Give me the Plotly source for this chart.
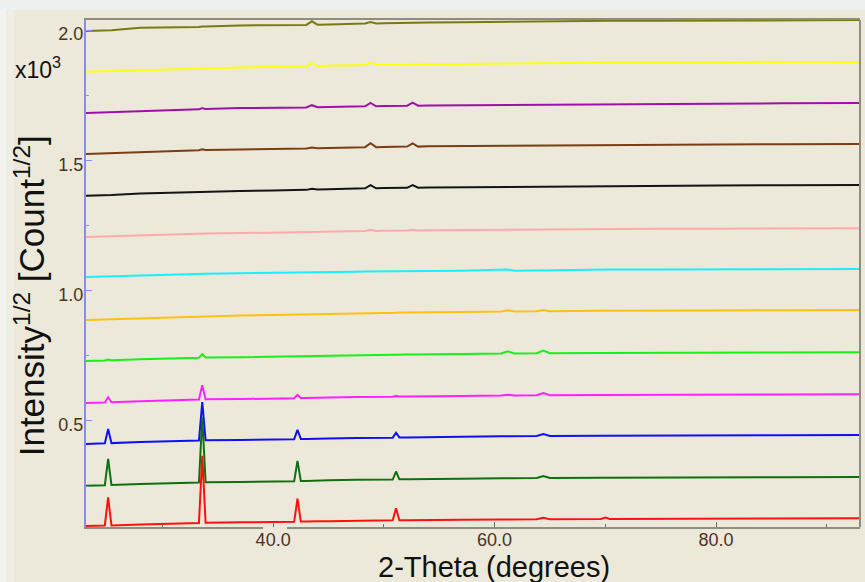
import plotly.graph_objects as go

# 2-theta sampling positions (degrees)
two_theta = [23.1, 24.8, 25.1, 25.4, 28.0, 31.0, 33.3, 33.6, 33.9, 37.0, 40.0,
             41.9, 42.2, 42.5, 43.0, 43.5, 44.0, 45.0, 47.5, 48.3, 48.8, 49.3,
             50.0, 50.8, 51.1, 51.4, 52.1, 52.6, 53.1, 54.0, 57.0, 60.6, 61.2,
             61.8, 63.8, 64.4, 65.0, 69.6, 70.0, 70.4, 75.0, 80.0, 86.0, 93.0]

# sqrt-intensity patterns (x10^3), stacked bottom to top
red = [0.097, 0.099, 0.207, 0.099, 0.103, 0.107, 0.108, 0.366, 0.109, 0.111, 0.112,
       0.113, 0.202, 0.114, 0.114, 0.115, 0.115, 0.115, 0.117, 0.118, 0.118, 0.118,
       0.119, 0.119, 0.165, 0.119, 0.119, 0.119, 0.120, 0.120, 0.121, 0.122, 0.122,
       0.122, 0.123, 0.128, 0.123, 0.124, 0.129, 0.124, 0.125, 0.126, 0.127, 0.127]
dark_green = [0.251, 0.253, 0.354, 0.254, 0.258, 0.262, 0.264, 0.515, 0.265, 0.266, 0.268,
              0.269, 0.347, 0.270, 0.270, 0.271, 0.271, 0.272, 0.274, 0.274, 0.274, 0.274,
              0.275, 0.275, 0.306, 0.276, 0.276, 0.276, 0.276, 0.277, 0.278, 0.280, 0.280,
              0.280, 0.281, 0.289, 0.281, 0.282, 0.282, 0.282, 0.283, 0.283, 0.284, 0.285]
blue = [0.412, 0.414, 0.469, 0.415, 0.419, 0.423, 0.425, 0.572, 0.426, 0.427, 0.429,
        0.430, 0.466, 0.431, 0.431, 0.432, 0.432, 0.433, 0.435, 0.435, 0.435, 0.435,
        0.436, 0.436, 0.455, 0.437, 0.437, 0.437, 0.437, 0.438, 0.439, 0.441, 0.441,
        0.441, 0.442, 0.450, 0.442, 0.443, 0.443, 0.443, 0.444, 0.444, 0.445, 0.446]
magenta = [0.569, 0.571, 0.591, 0.572, 0.576, 0.580, 0.582, 0.637, 0.583, 0.584, 0.586,
           0.587, 0.600, 0.588, 0.588, 0.589, 0.589, 0.590, 0.592, 0.592, 0.592, 0.592,
           0.593, 0.593, 0.596, 0.594, 0.594, 0.594, 0.594, 0.595, 0.596, 0.598, 0.601,
           0.598, 0.599, 0.607, 0.599, 0.600, 0.600, 0.600, 0.601, 0.601, 0.602, 0.603]
lime = [0.730, 0.732, 0.736, 0.733, 0.737, 0.741, 0.743, 0.756, 0.744, 0.745, 0.747,
        0.748, 0.751, 0.749, 0.749, 0.750, 0.750, 0.751, 0.753, 0.753, 0.753, 0.753,
        0.754, 0.754, 0.754, 0.755, 0.755, 0.755, 0.755, 0.756, 0.757, 0.759, 0.767,
        0.759, 0.760, 0.770, 0.760, 0.761, 0.761, 0.761, 0.762, 0.762, 0.763, 0.764]
orange = [0.888, 0.890, 0.891, 0.891, 0.896, 0.900, 0.902, 0.903, 0.903, 0.905, 0.907,
          0.908, 0.909, 0.909, 0.909, 0.910, 0.910, 0.911, 0.913, 0.914, 0.914, 0.914,
          0.915, 0.915, 0.915, 0.916, 0.916, 0.916, 0.916, 0.917, 0.918, 0.920, 0.925,
          0.920, 0.921, 0.926, 0.921, 0.923, 0.923, 0.923, 0.923, 0.924, 0.925, 0.926]
cyan = [1.053, 1.055, 1.055, 1.055, 1.059, 1.063, 1.064, 1.065, 1.065, 1.067, 1.068,
        1.069, 1.070, 1.070, 1.070, 1.071, 1.071, 1.071, 1.073, 1.074, 1.074, 1.074,
        1.075, 1.075, 1.075, 1.075, 1.075, 1.075, 1.075, 1.076, 1.077, 1.078, 1.081,
        1.077, 1.078, 1.079, 1.079, 1.081, 1.081, 1.081, 1.081, 1.082, 1.083, 1.083]
pink = [1.206, 1.208, 1.209, 1.209, 1.213, 1.217, 1.219, 1.220, 1.220, 1.221, 1.223,
        1.224, 1.225, 1.225, 1.225, 1.226, 1.226, 1.227, 1.229, 1.229, 1.234, 1.229,
        1.230, 1.230, 1.230, 1.231, 1.231, 1.234, 1.231, 1.232, 1.233, 1.235, 1.235,
        1.235, 1.236, 1.236, 1.236, 1.238, 1.238, 1.238, 1.238, 1.238, 1.239, 1.240]
black = [1.364, 1.366, 1.367, 1.367, 1.373, 1.377, 1.379, 1.381, 1.381, 1.383, 1.385,
         1.386, 1.387, 1.387, 1.387, 1.391, 1.388, 1.389, 1.392, 1.393, 1.405, 1.393,
         1.394, 1.394, 1.394, 1.395, 1.395, 1.405, 1.395, 1.396, 1.397, 1.399, 1.399,
         1.399, 1.400, 1.400, 1.400, 1.403, 1.403, 1.403, 1.403, 1.404, 1.405, 1.406]
brown = [1.525, 1.527, 1.528, 1.528, 1.533, 1.537, 1.539, 1.543, 1.540, 1.542, 1.544,
         1.545, 1.546, 1.546, 1.546, 1.550, 1.547, 1.548, 1.550, 1.551, 1.566, 1.551,
         1.552, 1.552, 1.552, 1.553, 1.553, 1.565, 1.553, 1.554, 1.555, 1.557, 1.557,
         1.557, 1.558, 1.558, 1.558, 1.560, 1.560, 1.560, 1.560, 1.561, 1.562, 1.563]
purple = [1.682, 1.684, 1.685, 1.685, 1.690, 1.694, 1.696, 1.701, 1.697, 1.701, 1.701,
          1.702, 1.703, 1.703, 1.703, 1.712, 1.704, 1.705, 1.707, 1.708, 1.721, 1.708,
          1.709, 1.709, 1.709, 1.710, 1.710, 1.722, 1.710, 1.711, 1.712, 1.714, 1.714,
          1.714, 1.715, 1.715, 1.715, 1.717, 1.717, 1.717, 1.717, 1.718, 1.719, 1.720]
yellow = [1.840, 1.842, 1.843, 1.843, 1.848, 1.852, 1.854, 1.855, 1.855, 1.857, 1.859,
          1.860, 1.861, 1.861, 1.861, 1.874, 1.862, 1.863, 1.865, 1.866, 1.876, 1.866,
          1.867, 1.867, 1.867, 1.868, 1.868, 1.868, 1.868, 1.869, 1.870, 1.872, 1.872,
          1.872, 1.873, 1.873, 1.873, 1.875, 1.875, 1.875, 1.875, 1.876, 1.877, 1.878]
olive = [1.997, 1.999, 2.000, 2.000, 2.009, 2.010, 2.012, 2.014, 2.014, 2.018, 2.018,
         2.019, 2.020, 2.020, 2.020, 2.034, 2.021, 2.022, 2.025, 2.026, 2.031, 2.026,
         2.027, 2.027, 2.027, 2.028, 2.028, 2.028, 2.028, 2.029, 2.030, 2.032, 2.032,
         2.032, 2.033, 2.033, 2.033, 2.036, 2.036, 2.036, 2.036, 2.037, 2.038, 2.039]

# drawn top pattern first so the lower patterns sit on top
patterns = [
    (olive, "#7A7A14"),
    (yellow, "#FFFF10"),
    (purple, "#A010A8"),
    (brown, "#7A3E14"),
    (black, "#141414"),
    (pink, "#FFAAAA"),
    (cyan, "#18F0FF"),
    (orange, "#FFC010"),
    (lime, "#18F018"),
    (magenta, "#FF20FF"),
    (blue, "#1010F0"),
    (dark_green, "#107010"),
    (red, "#FF1010"),
]

x_tick_vals = [40, 60, 80]
x_tick_text = ["40.0", "60.0", "80.0"]
y_tick_vals = [0.5, 1.0, 1.5, 2.0]
y_tick_text = ["0.5", "1.0", "1.5", "2.0"]

BG = "#ECE9DB"
FONT = "Liberation Sans, Arial, sans-serif"
TICK_FONT = dict(family=FONT, size=18, color="#4A3322")

fig = go.Figure()
for values, color in patterns:
    fig.add_trace(go.Scatter(
        x=two_theta, y=values, mode="lines",
        line=dict(color=color, width=2),
        hoverinfo="skip", showlegend=False,
    ))

fig.update_layout(
    width=865, height=582,
    margin=dict(l=86, r=5, t=20, b=55),
    paper_bgcolor=BG, plot_bgcolor=BG,
    showlegend=False,
    xaxis=dict(
        range=[23.1, 93.0], showgrid=False, zeroline=False,
        showline=True, mirror=True, linecolor="#8E8E80", linewidth=2,
        ticks="inside", ticklen=5, tickwidth=1, tickcolor="#6E6E60",
        tickvals=x_tick_vals, ticktext=x_tick_text, tickfont=TICK_FONT,
        ticklabelstandoff=-5,
        minor=dict(ticks="inside", dtick=10, tick0=0, ticklen=3,
                   tickcolor="#6E6E60", showgrid=False),
    ),
    yaxis=dict(
        range=[0.093, 2.039], showgrid=False, zeroline=False,
        showline=True, mirror=False, linecolor="#8A8AF0", linewidth=2,
        ticks="inside", ticklen=6, tickwidth=1, tickcolor="#8A8AF0",
        tickvals=y_tick_vals, ticktext=y_tick_text, tickfont=TICK_FONT,
        ticklabelstandoff=-3, ticklabelshift=4,
        minor=dict(ticks="inside", dtick=0.25, tick0=0, ticklen=3,
                   tickcolor="#8A8AF0", showgrid=False),
    ),
    shapes=[
        # right frame edge
        dict(type="line", xref="paper", yref="paper", x0=1, x1=1, y0=0, y1=1,
             line=dict(color="#8E8E80", width=2), layer="above"),
        # light band along the top and left edges of the page
        dict(type="rect", xref="paper", yref="paper", x0=-0.12, x1=1.02,
             y0=1.0197, y1=1.06, fillcolor="#EDF2F1", line=dict(width=0), layer="below"),
        dict(type="rect", xref="paper", yref="paper", x0=-0.12, x1=-0.103,
             y0=-0.12, y1=1.02, fillcolor="#F3F3EF", line=dict(width=0), layer="below"),
        dict(type="rect", xref="paper", yref="paper", x0=-0.103, x1=-0.093,
             y0=-0.12, y1=1.02, fillcolor="#EFEEE6", line=dict(width=0), layer="below"),
        # break in the bottom axis line behind the 40.0 label
        dict(type="rect", xref="paper", yref="paper", x0=0.2287, x1=0.2597,
             y0=-0.004, y1=0.0, fillcolor=BG, line=dict(width=0), layer="above"),
    ],
    annotations=[
        dict(text="2-Theta (degrees)", xref="paper", yref="paper", x=0.527, y=-0.078,
             xanchor="center", yanchor="middle", showarrow=False,
             font=dict(family=FONT, size=29, color="#111111")),
        dict(text="Intensity<sup>1/2</sup> [Count<sup>1/2</sup>]", xref="paper", yref="paper",
             x=-0.073, y=0.456, xanchor="center", yanchor="middle", textangle=-90,
             showarrow=False,
             font=dict(family=FONT, size=35, color="#111111")),
        dict(text="x10<sup>3</sup>", xref="paper", yref="paper", x=-0.094, y=0.905,
             xanchor="left", yanchor="middle", showarrow=False,
             font=dict(family=FONT, size=23, color="#111111")),
    ],
)

fig.write_html("out.html")
